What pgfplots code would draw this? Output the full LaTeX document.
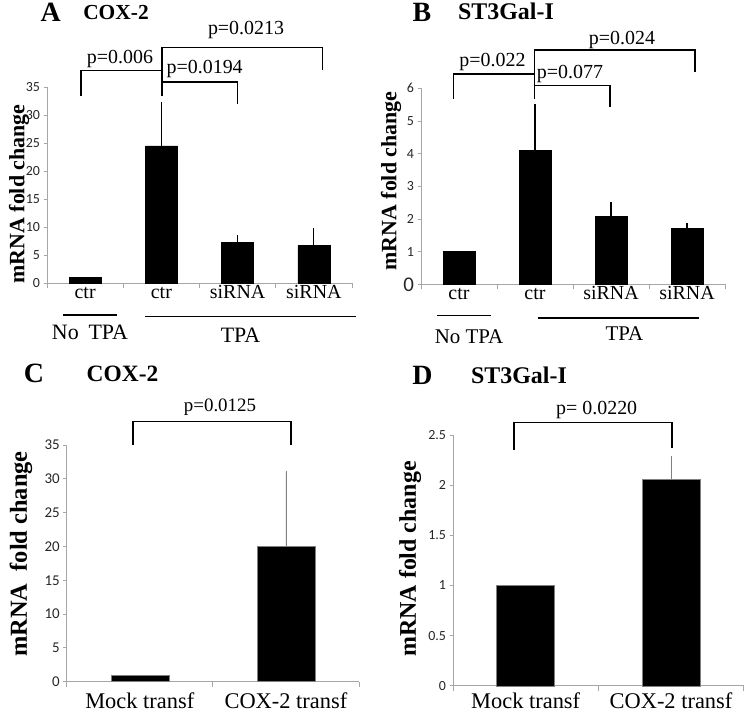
\documentclass[border=0pt]{standalone}
\usepackage{fontspec}
\setmainfont{Liberation Serif}
\newfontfamily\calfont{Carlito}
\usepackage{pgfplots}
\pgfplotsset{compat=1.18}
\newcommand{\fs}[1]{\fontsize{#1}{#1}\selectfont}
\pgfplotsset{
  panel/.style={
    scale only axis,
    axis lines*=left,
    axis line style={draw=gray!70, line width=0.9bp, -},
    tick align=outside,
    xmin=0, ymin=0,
    enlargelimits=false,
    ybar, bar shift=0pt,
    major tick length=3.5bp,
    minor tick length=5bp,
    ytick style={draw=gray!70, line width=0.8bp},
    major x tick style={draw=none},
    minor x tick style={draw=gray!70, line width=0.8bp},
    yticklabel style={font=\calfont\fs{14}, text=black!85},
    xticklabel style={anchor=base, yshift=-12bp},
    clip=false,
  }
}
\begin{document}
\begin{tikzpicture}
\useasboundingbox (0,0) rectangle (745bp,714bp);
% ---------- A ----------
\begin{axis}[panel, at={(47bp,431bp)}, anchor=south west,
  width=305bp, height=196bp, xmax=4, ymax=35, bar width=32bp,
  ytick={0,5,...,35}, yticklabels={0,5,10,15,20,25,30,35},
  xtick={0.5,1.5,2.5,3.5}, xticklabels={ctr,ctr,siRNA,siRNA},
  minor xtick={0,1,2,3,4},
  xticklabel style={font=\fs{20}}]
\addplot[fill=black, draw=black,
  error bars/.cd, y dir=plus, y explicit,
  error bar style={line width=1.2bp, black}, error mark=none]
  table[x=x, y=y, y error=e] {
x y e
0.5 1.0 0
1.5 24.5 7.9
2.5 7.3 1.2
3.5 6.7 3.2
};
\end{axis}
% ---------- B ----------
\begin{axis}[panel, at={(421bp,429.7bp)}, anchor=south west,
  width=304bp, height=196bp, xmax=4, ymax=6, bar width=32bp,
  ytick={0,1,...,6}, yticklabels={{\fs{21}0},1,2,3,4,5,6},
  xtick={0.5,1.5,2.5,3.5}, xticklabels={ctr,ctr,siRNA,siRNA},
  minor xtick={0,1,2,3,4},
  xticklabel style={font=\fs{20}}]
\addplot[fill=black, draw=black,
  error bars/.cd, y dir=plus, y explicit,
  error bar style={line width=1.2bp, black}, error mark=none]
  table[x=x, y=y, y error=e] {
x y e
0.5 1.0 0
1.5 4.1 1.41
2.5 2.08 0.44
3.5 1.71 0.18
};
\end{axis}
% ---------- C ----------
\begin{axis}[panel, at={(66.7bp,32.3bp)}, anchor=south west,
  width=292.3bp, height=236.7bp, xmax=2, ymax=35, bar width=58bp,
  ytick={0,5,...,35}, yticklabels={0,5,10,15,20,25,30,35},
  yticklabel style={font=\calfont\fs{15}},
  xtick={0.5,1.5}, xticklabels={Mock transf,COX-2 transf},
  minor xtick={0,1,2},
  xticklabel style={font=\fs{22.5}, yshift=-11bp}]
\addplot[fill=black, draw=gray] table[x=x, y=y] {
x y
0.5 1.0
};
\addplot[fill=black, draw=gray,
  error bars/.cd, y dir=plus, y explicit,
  error bar style={line width=0.8bp, gray}, error mark=-,
  error mark options={mark size=2bp, gray, line width=0.8bp}]
  table[x=x, y=y, y error=e] {
x y e
1.5 20.1 10.8
};
\end{axis}
% ---------- D ----------
\begin{axis}[panel, at={(453bp,28.3bp)}, anchor=south west,
  width=290.7bp, height=250.7bp, xmax=2, ymax=2.5, bar width=58bp,
  ytick={0,0.5,...,2.5}, yticklabels={0,0.5,1,1.5,2,2.5},
  xtick={0.5,1.5}, xticklabels={Mock transf,COX-2 transf},
  minor xtick={0,1,2},
  xticklabel style={font=\fs{22.5}, yshift=-7bp}]
\addplot[fill=black, draw=gray] table[x=x, y=y] {
x y
0.5 1.0
};
\addplot[fill=black, draw=gray,
  error bars/.cd, y dir=plus, y explicit,
  error bar style={line width=0.8bp, gray}, error mark=-,
  error mark options={mark size=3.5bp, gray, line width=0.8bp}]
  table[x=x, y=y, y error=e] {
x y e
1.5 2.06 0.20
};
\end{axis}
% ---------- annotations (image pixel coordinates) ----------
\begin{scope}[shift={(0,714bp)}, x=1bp, y=-1bp, line width=1.6bp]
% titles
\node[font=\bfseries\fs{28}, anchor=base, inner sep=0pt] at (50.8,22) {A};
\node[font=\bfseries\fs{21.5}, anchor=base, inner sep=0pt] at (116,20) {COX-2};
\node[font=\bfseries\fs{28}, anchor=base, inner sep=0pt] at (422,22) {B};
\node[font=\bfseries\fs{24}, anchor=base, inner sep=0pt] at (506,20) {ST3Gal-I};
\node[font=\bfseries\fs{28}, anchor=base, inner sep=0pt] at (34,382.7) {C};
\node[font=\bfseries\fs{23.5}, anchor=base, inner sep=0pt] at (122.5,381.7) {COX-2};
\node[font=\bfseries\fs{28}, anchor=base, inner sep=0pt] at (422.5,385) {D};
\node[font=\bfseries\fs{24}, anchor=base, inner sep=0pt] at (519,384) {ST3Gal-I};
% y labels
\node[font=\bfseries\fs{22}, rotate=90] at (19,194) {mRNA fold change};
\node[font=\bfseries\fs{22}, rotate=90] at (391,181) {mRNA fold change};
\node[font=\bfseries\fs{24.5}, rotate=90] at (21,554) {mRNA\ \ fold change};
\node[font=\bfseries\fs{24}, rotate=90] at (410,559) {mRNA fold change};
% brackets A
\draw (80.7,95.7) -- (80.7,70.7) -- (161.7,70.7);
\draw (161.7,96) -- (161.7,47.7) -- (322.3,47.7) -- (322.3,70);
\draw (161.7,82) -- (237.3,82) -- (237.3,103.7);
\node[font=\fs{20}, anchor=base] at (120,64) {p=0.006};
\node[font=\fs{20}, anchor=base] at (246,35) {p=0.0213};
\node[font=\fs{20}, anchor=base] at (204.7,74) {p=0.0194};
% brackets B
\draw (453.3,99) -- (453.3,74) -- (534.3,74);
\draw (534.3,99) -- (534.3,50) -- (694.7,50) -- (694.7,71.7);
\draw (534.3,85.7) -- (610,85.7) -- (610,107.3);
\node[font=\fs{20}, anchor=base] at (492.5,66.7) {p=0.022};
\node[font=\fs{20}, anchor=base] at (622,44.3) {p=0.024};
\node[font=\fs{20}, anchor=base] at (570,78.3) {p=0.077};
% brackets C, D
\draw (132.7,445) -- (132.7,421.7) -- (290.7,421.7) -- (290.7,445);
\node[font=\fs{19}, anchor=base] at (220,411.7) {p=0.0125};
\draw (513.7,450) -- (513.7,422.7) -- (672,422.7) -- (672,448);
\node[font=\fs{20}, anchor=base] at (596.7,415) {p= 0.0220};
% group lines A, B
\draw (63,315) -- (117,315);
\draw (145,316.7) -- (356,316.7);
\node[font=\fs{22}, anchor=base] at (90,340) {No\hspace{0.45em}TPA};
\node[font=\fs{22}, anchor=base] at (240.5,342.7) {TPA};
\draw (437,315.7) -- (491,315.7);
\draw (537.7,318.3) -- (699.3,318.3);
\node[font=\fs{21}, anchor=base] at (469,343.3) {No TPA};
\node[font=\fs{21}, anchor=base] at (624.5,340.7) {TPA};
\end{scope}
\end{tikzpicture}
\end{document}
